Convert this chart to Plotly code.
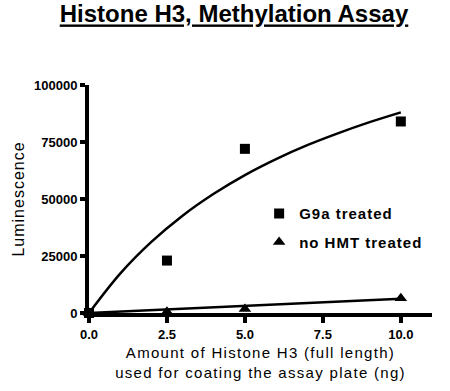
import plotly.graph_objects as go

# Data
amount_ng = [0, 2.5, 5, 10]
g9a_lum = [0, 23000, 72000, 84000]
nohmt_lum = [0, 500, 1800, 6500]

fit_x = [0, 1, 2, 3, 4, 5, 6, 7, 8, 9, 10]
g9a_fit = [0, 17300, 31200, 42700, 52300, 60500, 67500, 73600, 78900, 83700, 88000]
nohmt_fit = [0, 630, 1260, 1890, 2520, 3150, 3780, 4410, 5040, 5670, 6300]

x_ticks = [0, 2.5, 5, 7.5, 10]
x_tick_labels = ["0.0", "2.5", "5.0", "7.5", "10.0"]
y_ticks = [0, 25000, 50000, 75000, 100000]
y_tick_labels = ["0", "25000", "50000", "75000", "100000"]

FONT = "Arial, Liberation Sans, sans-serif"


def spaced(text, px):
    return f'<span style="letter-spacing:{px}px">{text}</span>'


fig = go.Figure()
fig.add_trace(go.Scatter(x=fit_x, y=g9a_fit, mode="lines", line=dict(color="black", width=2.5, shape="spline"),
                         showlegend=False, cliponaxis=False, hoverinfo="skip"))
fig.add_trace(go.Scatter(x=fit_x, y=nohmt_fit, mode="lines", line=dict(color="black", width=2.5),
                         showlegend=False, cliponaxis=False, hoverinfo="skip"))
fig.add_trace(go.Scatter(x=amount_ng, y=g9a_lum, mode="markers", name=spaced("G9a treated", 1),
                         marker=dict(symbol="square", size=10, color="black"),
                         cliponaxis=False, legend="legend"))
fig.add_trace(go.Scatter(x=amount_ng, y=nohmt_lum, mode="markers", name=spaced("no HMT treated", 1),
                         marker=dict(symbol="triangle-up", size=11, color="black"),
                         cliponaxis=False, legend="legend2"))

leg_common = dict(bgcolor="rgba(0,0,0,0)", font=dict(family=FONT, size=15, color="black", weight="bold"),
                  xanchor="left", yanchor="middle", itemwidth=30)
fig.update_layout(
    width=450, height=391,
    margin=dict(l=89, r=18, t=85, b=78),
    paper_bgcolor="white", plot_bgcolor="white",
    hovermode=False,
    title=dict(text='<b><span style="text-decoration:underline">Histone H3, Methylation Assay</span></b>',
               x=0.52, xanchor="center", y=0.964, yanchor="middle",
               font=dict(family=FONT, size=24, color="black")),
    legend=dict(x=0.496, y=0.435, **leg_common),
    legend2=dict(x=0.496, y=0.31, **leg_common),
    xaxis=dict(range=[0, 11], tickvals=x_ticks, ticktext=x_tick_labels, automargin=False,
               showgrid=False, zeroline=False, showline=True, linecolor="black", linewidth=4,
               ticks="outside", ticklen=6, tickwidth=4, tickcolor="black",
               tickfont=dict(family=FONT, size=13, color="black", weight="bold"),
               title=dict(text=spaced("Amount of Histone H3 (full length)", 1.3) + "<br>"
                          + spaced("used for coating the assay plate (ng)", 1.3),
                          font=dict(family=FONT, size=15, color="black"), standoff=8)),
    yaxis=dict(range=[0, 100000], tickvals=y_ticks, ticktext=y_tick_labels, automargin=False,
               showgrid=False, zeroline=False, showline=True, linecolor="black", linewidth=4,
               ticks="outside", ticklen=5, tickwidth=4, tickcolor="black",
               tickfont=dict(family=FONT, size=13, color="black", weight="bold"),
               title=dict(text=spaced("Luminescence", 1), font=dict(family=FONT, size=16, color="black"),
                          standoff=6)),
)

fig.write_html("out.html", config={"displayModeBar": False},
               post_script="document.body.style.margin='0';")
